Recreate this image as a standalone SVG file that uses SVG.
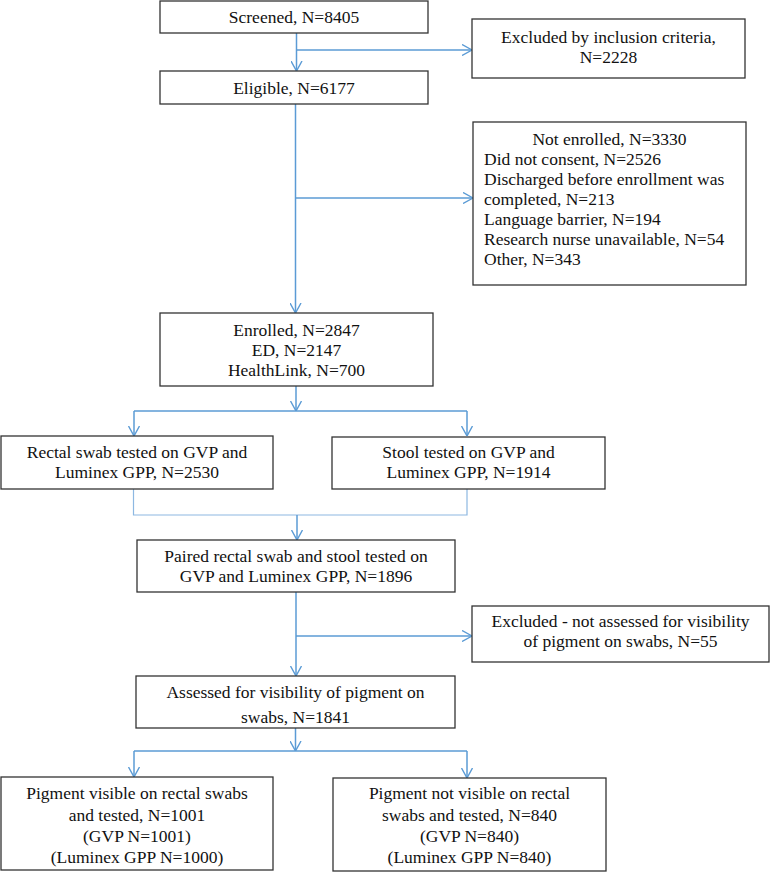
<svg xmlns="http://www.w3.org/2000/svg" width="771" height="873" viewBox="0 0 771 873">
<style>
  .box { fill: #ffffff; stroke: #333333; stroke-width: 1.3; }
  text { font-family: 'Liberation Serif', 'Times New Roman', Times, serif; font-size: 17.5px; fill: #111111; }
  .c { text-anchor: middle; }
  .conn { fill: none; stroke: #5B9BD5; stroke-width: 1.5; }
  .thin { fill: none; stroke: #8DB8E2; stroke-width: 1.2; }
</style>
<defs>
  <marker id="arr" viewBox="0 0 10 12" refX="10" refY="6" markerWidth="10" markerHeight="12" markerUnits="userSpaceOnUse" orient="auto">
    <path d="M0,0.5 L10,6 L0,11.5" fill="none" stroke="#5B9BD5" stroke-width="1.4"/>
  </marker>
</defs>
<rect x="0" y="0" width="771" height="873" fill="#ffffff"/>

<g id="connectors">
  <line class="conn" x1="296.5" y1="33" x2="296.5" y2="71" marker-end="url(#arr)"/>
  <line class="conn" x1="296.5" y1="50" x2="472" y2="50" marker-end="url(#arr)"/>
  <line class="conn" x1="295.5" y1="104" x2="295.5" y2="313" marker-end="url(#arr)"/>
  <line class="conn" x1="295.5" y1="198" x2="473" y2="198" marker-end="url(#arr)"/>
  <line class="conn" x1="296" y1="386" x2="296" y2="411" marker-end="url(#arr)"/>
  <line class="conn" x1="134" y1="411" x2="467" y2="411"/>
  <line class="conn" x1="134" y1="411" x2="134" y2="436" marker-end="url(#arr)"/>
  <line class="conn" x1="467" y1="411" x2="467" y2="436" marker-end="url(#arr)"/>
  <polyline class="thin" points="133.5,489 133.5,515 467,515 467,489"/>
  <line class="conn" x1="297" y1="515" x2="297" y2="540" marker-end="url(#arr)"/>
  <line class="conn" x1="296" y1="592" x2="296" y2="676" marker-end="url(#arr)"/>
  <line class="conn" x1="296" y1="636" x2="472" y2="636" marker-end="url(#arr)"/>
  <line class="conn" x1="295.5" y1="728" x2="295.5" y2="751" marker-end="url(#arr)"/>
  <line class="conn" x1="134" y1="751" x2="467" y2="751"/>
  <line class="conn" x1="134" y1="751" x2="134" y2="777" marker-end="url(#arr)"/>
  <line class="conn" x1="467" y1="751" x2="467" y2="778" marker-end="url(#arr)"/>
</g>

<g id="screened">
  <rect class="box" x="160" y="1" width="268" height="32"/>
  <text class="c" x="294" y="23">Screened, N=8405</text>
</g>
<g id="excluded-inclusion">
  <rect class="box" x="472" y="19" width="273" height="59"/>
  <text class="c" x="608.5" y="43">Excluded by inclusion criteria,</text>
  <text class="c" x="608.5" y="63">N=2228</text>
</g>
<g id="eligible">
  <rect class="box" x="160" y="71" width="268" height="33"/>
  <text class="c" x="294" y="94">Eligible, N=6177</text>
</g>
<g id="not-enrolled">
  <rect class="box" x="473" y="122" width="273" height="163"/>
  <text class="c" x="609.5" y="145">Not enrolled, N=3330</text>
  <text x="484" y="165">Did not consent, N=2526</text>
  <text x="484" y="185">Discharged before enrollment was</text>
  <text x="484" y="205">completed, N=213</text>
  <text x="484" y="225">Language barrier, N=194</text>
  <text x="484" y="245">Research nurse unavailable, N=54</text>
  <text x="484" y="265">Other, N=343</text>
</g>
<g id="enrolled">
  <rect class="box" x="160" y="313" width="273" height="73"/>
  <text class="c" x="296.5" y="336">Enrolled, N=2847</text>
  <text class="c" x="296.5" y="356">ED, N=2147</text>
  <text class="c" x="296.5" y="376">HealthLink, N=700</text>
</g>
<g id="rectal-swab">
  <rect class="box" x="1" y="436" width="272" height="53"/>
  <text class="c" x="137" y="458">Rectal swab tested on GVP and</text>
  <text class="c" x="137" y="478">Luminex GPP, N=2530</text>
</g>
<g id="stool">
  <rect class="box" x="332" y="437" width="273" height="52"/>
  <text class="c" x="468.5" y="458">Stool tested on GVP and</text>
  <text class="c" x="468.5" y="478">Luminex GPP, N=1914</text>
</g>
<g id="paired">
  <rect class="box" x="137" y="540" width="318" height="52"/>
  <text class="c" x="296" y="562">Paired rectal swab and stool tested on</text>
  <text class="c" x="296" y="582">GVP and Luminex GPP, N=1896</text>
</g>
<g id="excluded-visibility">
  <rect class="box" x="472" y="606" width="297" height="56"/>
  <text class="c" x="620.5" y="627">Excluded - not assessed for visibility</text>
  <text class="c" x="620.5" y="647">of pigment on swabs, N=55</text>
</g>
<g id="assessed">
  <rect class="box" x="136" y="676" width="319" height="52"/>
  <text class="c" x="295.5" y="698">Assessed for visibility of pigment on</text>
  <text class="c" x="295.5" y="723">swabs, N=1841</text>
</g>
<g id="pigment-visible">
  <rect class="box" x="1" y="777" width="272" height="93"/>
  <text class="c" x="137" y="799">Pigment visible on rectal swabs</text>
  <text class="c" x="137" y="821">and tested, N=1001</text>
  <text class="c" x="137" y="842">(GVP N=1001)</text>
  <text class="c" x="137" y="863">(Luminex GPP N=1000)</text>
</g>
<g id="pigment-not-visible">
  <rect class="box" x="333" y="778" width="273" height="93"/>
  <text class="c" x="469.5" y="799">Pigment not visible on rectal</text>
  <text class="c" x="469.5" y="821">swabs and tested, N=840</text>
  <text class="c" x="469.5" y="842">(GVP N=840)</text>
  <text class="c" x="469.5" y="863">(Luminex GPP N=840)</text>
</g>
</svg>
